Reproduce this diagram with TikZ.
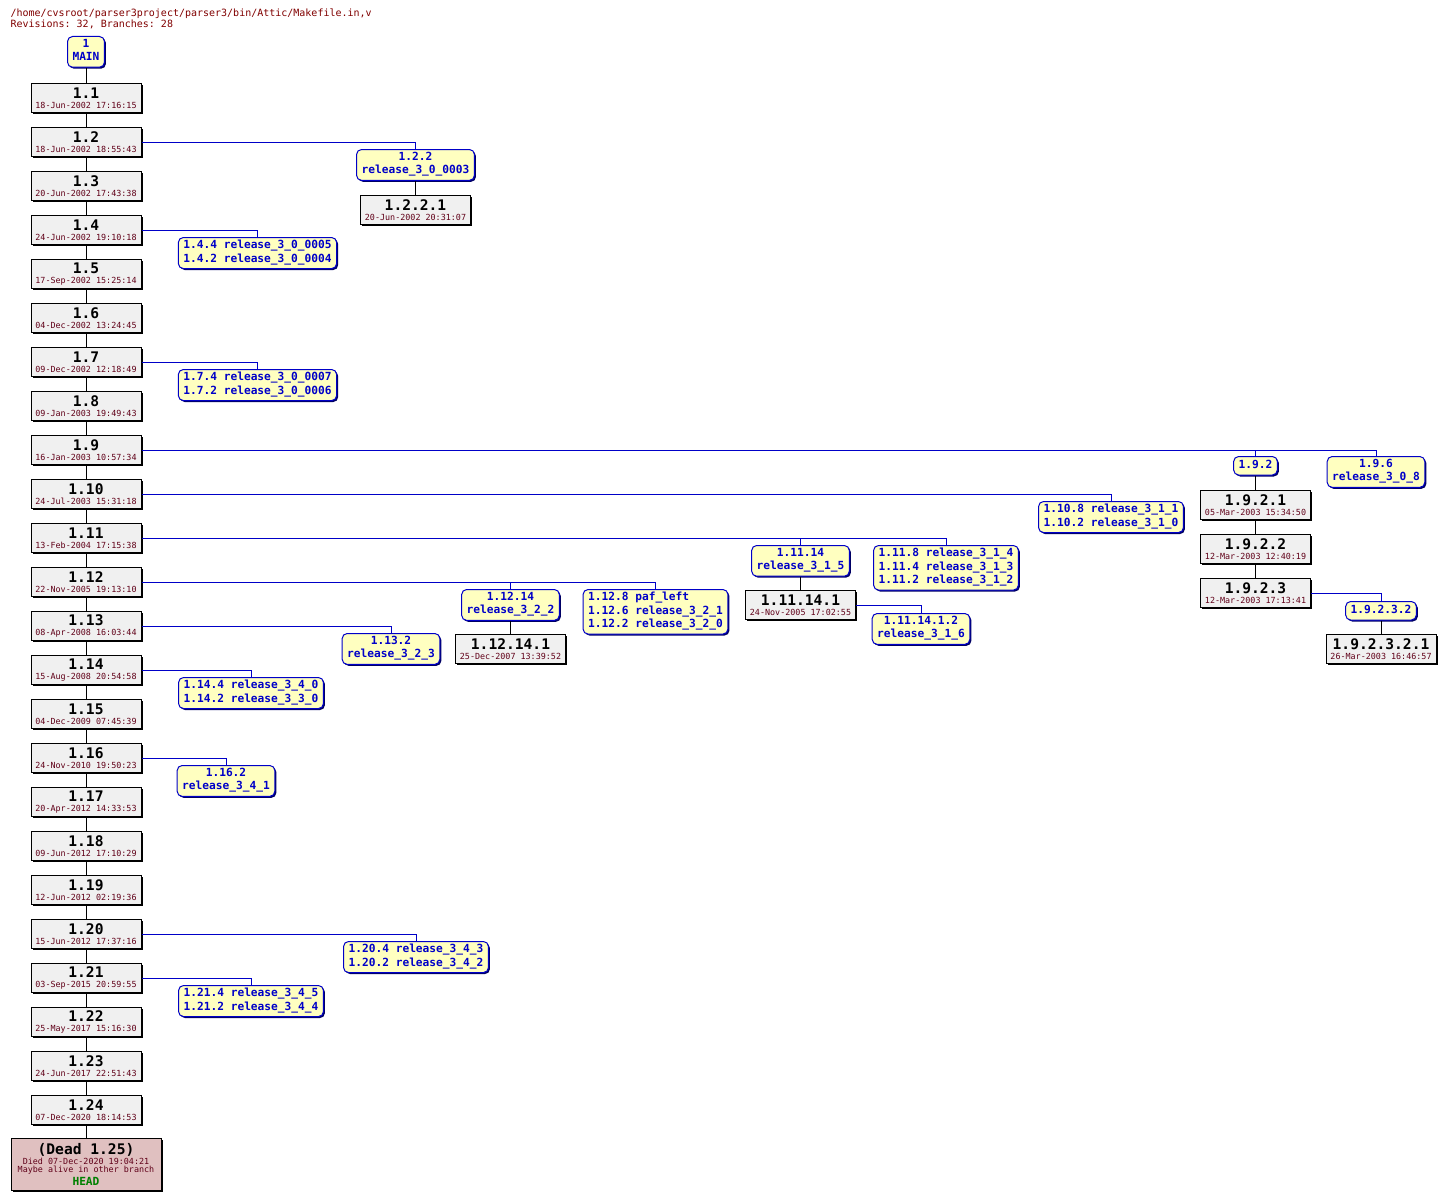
\documentclass[tikz,border=0pt]{standalone}
\usepackage{fontspec}
\setmonofont{DejaVu Sans Mono}
\usetikzlibrary{shadows}

\definecolor{revfill}{HTML}{F0F0F0}
\definecolor{tagfill}{HTML}{FFFFC0}
\definecolor{tagblue}{HTML}{0000C8}
\definecolor{datered}{HTML}{600018}
\definecolor{hdrred}{HTML}{800000}
\definecolor{deadfill}{HTML}{E0C0C0}
\definecolor{headgreen}{HTML}{008000}

\newcommand\hdrfont{\ttfamily\fontsize{10}{11}\selectfont}
\newcommand\numfont{\ttfamily\bfseries\fontsize{14.6}{9.5}\selectfont}
\newcommand\datefont{\ttfamily\mdseries\fontsize{8.4}{9.5}\selectfont\color{datered}}
\newcommand\tagfont{\ttfamily\bfseries\fontsize{11.2}{13.5}\selectfont}
\newcommand\revtext[2]{#1\\{\datefont #2}}

\begin{document}
\begin{tikzpicture}[x=1pt, y=-1pt, line width=1pt,
    rev/.style={draw, fill=revfill, minimum width=110, minimum height=29,
      inner sep=0, align=center, font=\numfont, anchor=north,
      drop shadow={shadow xshift=1.5pt, shadow yshift=-1.5pt, fill=black, opacity=1}},
    dead/.style={rev, fill=deadfill, minimum width=150, minimum height=52},
    tag/.style={draw=tagblue, fill=tagfill, rounded corners=5pt, text=tagblue,
      font=\tagfont, inner xsep=5pt, inner ysep=2.5pt, align=center, anchor=north,
      execute at begin node=\strut, execute at end node=\strut,
      drop shadow={shadow xshift=1.5pt, shadow yshift=-1.5pt, fill=tagblue!50!black, opacity=1}},
    taglist/.style={tag, align=left},
    brline/.style={draw=tagblue}]
  \useasboundingbox (0,0) rectangle (1445,1199);

  % header
  \node[anchor=base west, inner sep=0, font=\hdrfont, text=hdrred] (hdr1) at (10,17) {/home/cvsroot/parser3project/parser3/bin/Attic/Makefile.in,v};
  \node[anchor=base west, inner sep=0, font=\hdrfont, text=hdrred] (hdr2) at (10,28) {Revisions: 32, Branches: 28};

  % trunk
  \node[tag] (main) at (86,36) {1\\MAIN};
  \node[rev] (r1) at (86,83) {\revtext{1.1}{18-Jun-2002 17:16:15}};
  \node[rev] (r2) at (86,127) {\revtext{1.2}{18-Jun-2002 18:55:43}};
  \node[rev] (r3) at (86,171) {\revtext{1.3}{20-Jun-2002 17:43:38}};
  \node[rev] (r4) at (86,215) {\revtext{1.4}{24-Jun-2002 19:10:18}};
  \node[rev] (r5) at (86,259) {\revtext{1.5}{17-Sep-2002 15:25:14}};
  \node[rev] (r6) at (86,303) {\revtext{1.6}{04-Dec-2002 13:24:45}};
  \node[rev] (r7) at (86,347) {\revtext{1.7}{09-Dec-2002 12:18:49}};
  \node[rev] (r8) at (86,391) {\revtext{1.8}{09-Jan-2003 19:49:43}};
  \node[rev] (r9) at (86,435) {\revtext{1.9}{16-Jan-2003 10:57:34}};
  \node[rev] (r10) at (86,479) {\revtext{1.10}{24-Jul-2003 15:31:18}};
  \node[rev] (r11) at (86,523) {\revtext{1.11}{13-Feb-2004 17:15:38}};
  \node[rev] (r12) at (86,567) {\revtext{1.12}{22-Nov-2005 19:13:10}};
  \node[rev] (r13) at (86,611) {\revtext{1.13}{08-Apr-2008 16:03:44}};
  \node[rev] (r14) at (86,655) {\revtext{1.14}{15-Aug-2008 20:54:58}};
  \node[rev] (r15) at (86,699) {\revtext{1.15}{04-Dec-2009 07:45:39}};
  \node[rev] (r16) at (86,743) {\revtext{1.16}{24-Nov-2010 19:50:23}};
  \node[rev] (r17) at (86,787) {\revtext{1.17}{20-Apr-2012 14:33:53}};
  \node[rev] (r18) at (86,831) {\revtext{1.18}{09-Jun-2012 17:10:29}};
  \node[rev] (r19) at (86,875) {\revtext{1.19}{12-Jun-2012 02:19:36}};
  \node[rev] (r20) at (86,919) {\revtext{1.20}{15-Jun-2012 17:37:16}};
  \node[rev] (r21) at (86,963) {\revtext{1.21}{03-Sep-2015 20:59:55}};
  \node[rev] (r22) at (86,1007) {\revtext{1.22}{25-May-2017 15:16:30}};
  \node[rev] (r23) at (86,1051) {\revtext{1.23}{24-Jun-2017 22:51:43}};
  \node[rev] (r24) at (86,1095) {\revtext{1.24}{07-Dec-2020 18:14:53}};
  \node[dead] (dead) at (86,1138) {(Dead 1.25)\\{\datefont Died 07-Dec-2020 19:04:21}\\[-1pt]{\datefont Maybe alive in other branch}\\[1.5pt]{\tagfont\color{headgreen}HEAD}};

  \draw (main) -- (r1) -- (r2) -- (r3) -- (r4) -- (r5) -- (r6) -- (r7) -- (r8)
    -- (r9) -- (r10) -- (r11) -- (r12) -- (r13) -- (r14) -- (r15) -- (r16)
    -- (r17) -- (r18) -- (r19) -- (r20) -- (r21) -- (r22) -- (r23) -- (r24) -- (dead);

  % branches
  \node[tag] (b122) at (415.5,149) {1.2.2\\release\_3\_0\_0003};
  \node[rev] (r1221) at (415.5,195) {\revtext{1.2.2.1}{20-Jun-2002 20:31:07}};
  \node[taglist] (b14) at (257.5,237) {1.4.4 release\_3\_0\_0005\\1.4.2 release\_3\_0\_0004};
  \node[taglist] (b17) at (257.5,369) {1.7.4 release\_3\_0\_0007\\1.7.2 release\_3\_0\_0006};
  \node[tag] (b192) at (1255.5,456) {1.9.2};
  \node[tag] (b196) at (1376,456) {1.9.6\\release\_3\_0\_8};
  \node[rev] (r1921) at (1255.5,490) {\revtext{1.9.2.1}{05-Mar-2003 15:34:50}};
  \node[rev] (r1922) at (1255.5,534) {\revtext{1.9.2.2}{12-Mar-2003 12:40:19}};
  \node[rev] (r1923) at (1255.5,578) {\revtext{1.9.2.3}{12-Mar-2003 17:13:41}};
  \node[tag] (b19232) at (1381,601) {1.9.2.3.2};
  \node[rev] (r192321) at (1381,634) {\revtext{1.9.2.3.2.1}{26-Mar-2003 16:46:57}};
  \node[taglist] (b110) at (1111,501) {1.10.8 release\_3\_1\_1\\1.10.2 release\_3\_1\_0};
  \node[tag] (b1114) at (800.5,545) {1.11.14\\release\_3\_1\_5};
  \node[taglist] (b1118) at (946,545) {1.11.8 release\_3\_1\_4\\1.11.4 release\_3\_1\_3\\1.11.2 release\_3\_1\_2};
  \node[rev] (r111141) at (800.5,590) {\revtext{1.11.14.1}{24-Nov-2005 17:02:55}};
  \node[tag] (b111412) at (921,613) {1.11.14.1.2\\release\_3\_1\_6};
  \node[tag] (b1214) at (510.5,589) {1.12.14\\release\_3\_2\_2};
  \node[taglist] (b1218) at (655.5,589) {1.12.8 paf\_left\\1.12.6 release\_3\_2\_1\\1.12.2 release\_3\_2\_0};
  \node[rev] (r112141) at (510.5,634) {\revtext{1.12.14.1}{25-Dec-2007 13:39:52}};
  \node[tag] (b113) at (391,633) {1.13.2\\release\_3\_2\_3};
  \node[taglist] (b114) at (251,677) {1.14.4 release\_3\_4\_0\\1.14.2 release\_3\_3\_0};
  \node[tag] (b116) at (226,765) {1.16.2\\release\_3\_4\_1};
  \node[taglist] (b120) at (416,941) {1.20.4 release\_3\_4\_3\\1.20.2 release\_3\_4\_2};
  \node[taglist] (b121) at (251,985) {1.21.4 release\_3\_4\_5\\1.21.2 release\_3\_4\_4};

  \draw[brline] (r2.east) -| (b122.north);
  \draw[brline] (r4.east) -| (b14.north);
  \draw[brline] (r7.east) -| (b17.north);
  \draw[brline] (r9.east) -| (b192.north);
  \draw[brline] (r9.east) -| (b196.north);
  \draw[brline] (r10.east) -| (b110.north);
  \draw[brline] (r11.east) -| (b1114.north);
  \draw[brline] (r11.east) -| (b1118.north);
  \draw[brline] (r12.east) -| (b1214.north);
  \draw[brline] (r12.east) -| (b1218.north);
  \draw[brline] (r13.east) -| (b113.north);
  \draw[brline] (r14.east) -| (b114.north);
  \draw[brline] (r16.east) -| (b116.north);
  \draw[brline] (r20.east) -| (b120.north);
  \draw[brline] (r21.east) -| (b121.north);
  \draw[brline] (r1923.east) -| (b19232.north);
  \draw[brline] (r111141.east) -| (b111412.north);

  \draw (b122) -- (r1221);
  \draw (b192) -- (r1921) -- (r1922) -- (r1923);
  \draw (b19232) -- (r192321);
  \draw (b1114) -- (r111141);
  \draw (b1214) -- (r112141);
\end{tikzpicture}
\end{document}
